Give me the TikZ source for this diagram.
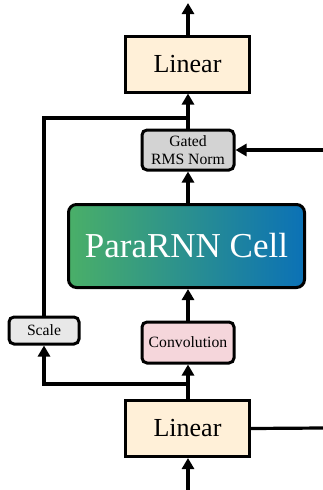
\documentclass[tikz,border=0pt]{standalone}
\usepackage{fontspec}
\setmainfont{Liberation Serif}
\usetikzlibrary{arrows.meta,positioning}
\definecolor{linfill}{HTML}{FFF0D8}
\definecolor{gatedfill}{HTML}{D3D3D3}
\definecolor{convfill}{HTML}{F5D6DB}
\definecolor{scalefill}{HTML}{E8E8E8}
\definecolor{cellleft}{HTML}{4AAF68}
\definecolor{cellright}{HTML}{0B71B6}
\begin{document}
\begin{tikzpicture}[x=1pt,y=-1pt,
  box/.style={draw=black,line width=3pt,inner sep=0pt,align=center},
  linbox/.style={box,fill=linfill,minimum width=124pt,minimum height=56pt,font=\rmfamily\fontsize{26}{30}\selectfont},
  smallbox/.style={box,rounded corners=5pt,font=\rmfamily\fontsize{15.7}{18}\selectfont},
  conn/.style={line width=3.2pt},
  arr/.style={conn,-{Triangle[length=11pt,width=12pt]}}]
\useasboundingbox (0,0) rectangle (323,490);
\node[linbox] (topLin) at (187.5,64) {Linear};
\node[smallbox,fill=gatedfill,minimum width=92pt,minimum height=40pt] (gated) at (188,150) {Gated\\RMS Norm};
\node[box,rounded corners=8pt,left color=cellleft,right color=cellright,minimum width=236pt,minimum height=83pt,text=white,font=\rmfamily\fontsize{35}{40}\selectfont] (cell) at (186.5,246) {ParaRNN Cell};
\node[smallbox,fill=convfill,minimum width=92pt,minimum height=41pt] (conv) at (188,342.5) {Convolution};
\node[smallbox,fill=scalefill,minimum width=70pt,minimum height=27pt] (scale) at (44,330.5) {Scale};
\node[linbox] (botLin) at (187.5,428.5) {Linear};
\coordinate (out) at (188,3);
\coordinate (fb) at (188,118);
\coordinate (rin) at (323,150);
\coordinate (split) at (188,384);
\coordinate (rout) at (323,428);
\coordinate (in) at (188,490);
\draw[arr] (topLin.north -| out) -- (out);
\draw[arr] (gated.north) -- (gated.north |- topLin.south);
\draw[conn] (scale.north) |- (fb);
\draw[arr] (rin) -- (gated.east);
\draw[arr] (gated.south |- cell.north) -- (gated.south);
\draw[arr] (conv.north) -- (conv.north |- cell.south);
\draw[arr] (conv.south |- botLin.north) -- (conv.south);
\draw[arr] (split) -| (scale.south);
\draw[conn] (botLin.east) -- (rout);
\draw[arr] (in) -- (in |- botLin.south);
\end{tikzpicture}
\end{document}
